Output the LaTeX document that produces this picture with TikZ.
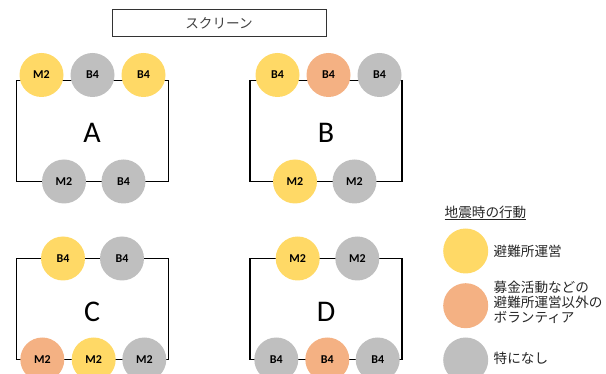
\documentclass[tikz,border=0pt]{standalone}
\usepackage{fontspec}
\setmainfont{Carlito}
\newfontfamily\jpfont{Noto Sans CJK JP}
\definecolor{cyel}{HTML}{FFD966}
\definecolor{cora}{HTML}{F4B183}
\definecolor{cgry}{HTML}{BFBFBF}
\begin{document}
\begin{tikzpicture}[x=1pt,y=-1pt,
  seat/.style={circle,minimum size=44pt,inner sep=0pt,font=\fontsize{12}{13}\selectfont\bfseries},
  Y/.style={seat,fill=cyel},
  O/.style={seat,fill=cora},
  G/.style={seat,fill=cgry},
  frame/.style={draw=black,line width=1.4pt},
  big/.style={font=\fontsize{30}{32}\selectfont},
  leg/.style={circle,minimum size=45pt,inner sep=0pt},
  jp/.style={font=\jpfont\fontsize{13.6}{14.8}\selectfont,text=black!85}]
\useasboundingbox (0,0) rectangle (606,374);
\begin{scope}
\clip (0,0) rectangle (606,374);
% screen
\node[draw=black!80,line width=1pt,minimum width=214pt,minimum height=27pt,inner sep=0pt,jp,text=black!75] (screen) at (219,23.5) {スクリーン};
% frames
\draw[frame] (16.5,80.5) rectangle (168.5,181.5);
\draw[frame] (250,80.5) rectangle (402,181.5);
\draw[frame] (16.5,258.5) rectangle (168.5,359.5);
\draw[frame] (250,258.5) rectangle (402,359.5);
% A
\node[Y] (a1) at (41.5,75) {M2};
\node[G] (a2) at (92.5,75) {B4};
\node[Y] (a3) at (143.5,75) {B4};
\node[G] (a4) at (64,181.5) {M2};
\node[G] (a5) at (123.5,181.5) {B4};
\node[big] (A) at (92,133) {A};
% B
\node[Y] (b1) at (277.5,75) {B4};
\node[O] (b2) at (328.5,75) {B4};
\node[G] (b3) at (379.5,75) {B4};
\node[Y] (b4) at (295,181.5) {M2};
\node[G] (b5) at (354.5,181.5) {M2};
\node[big] (B) at (326,133) {B};
% C
\node[Y] (c1) at (63,258.5) {B4};
\node[G] (c2) at (122,258.5) {B4};
\node[O] (c3) at (42.3,359.5) {M2};
\node[Y] (c4) at (93.7,359.5) {M2};
\node[G] (c5) at (144.3,359.5) {M2};
\node[big] (C) at (92,311.5) {C};
% D
\node[Y] (d1) at (297.7,258.5) {M2};
\node[G] (d2) at (357.3,258.5) {M2};
\node[G] (d3) at (276.3,359.5) {B4};
\node[O] (d4) at (327.3,359.5) {B4};
\node[G] (d5) at (377.7,359.5) {B4};
\node[big] (D) at (326,311.5) {D};
% legend
\node[jp,anchor=west,inner sep=0pt] (lt) at (444.5,213) {\underline{地震時の行動}};
\node[leg,fill=cyel] (l1) at (465.7,251) {};
\node[leg,fill=cora] (l2) at (465.7,305.7) {};
\node[leg,fill=cgry] (l3) at (465.7,360) {};
\node[jp,anchor=west,inner sep=0pt] (t1) at (493.5,251.5) {避難所運営};
\node[jp,anchor=west,inner sep=0pt,align=left] (t2) at (493.5,302.5) {募金活動などの\\避難所運営以外の\\ボランティア};
\node[jp,anchor=west,inner sep=0pt] (t3) at (493.5,358.5) {特になし};
\end{scope}
\end{tikzpicture}
\end{document}
